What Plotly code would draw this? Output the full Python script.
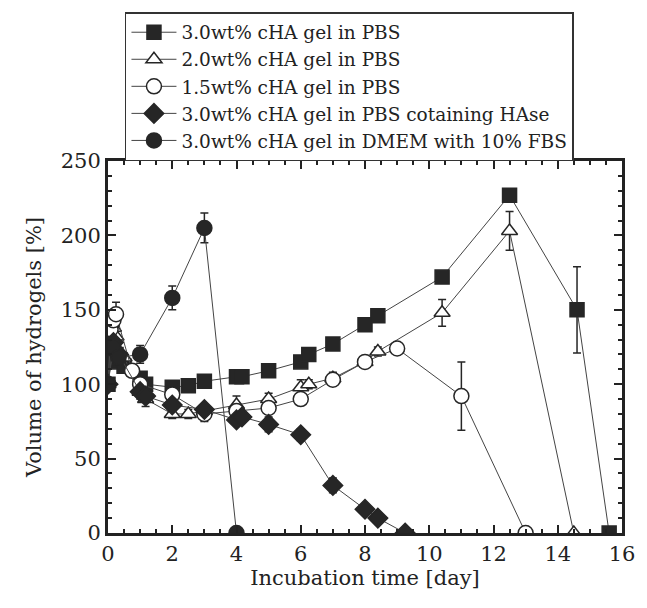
import plotly.graph_objects as go

# 3.0wt% cHA gel in PBS (filled squares)
x_a = [0, 0.08, 0.17, 0.25, 0.5, 1, 1.17, 2, 2.5, 3, 4, 4.17, 5, 6, 6.25, 7, 8, 8.4, 10.4, 12.5, 14.6, 15.6]
y_a = [100, 115, 118, 120, 112, 104, 100, 98, 99, 102, 105, 105, 109, 115, 120, 127, 140, 146, 172, 227, 150, 0]
e_a = [0, 3, 3, 3, 3, 3, 3, 2, 2, 2, 2, 2, 2, 2, 2, 2, 2, 2, 2, 2, 29, 0]

# 2.0wt% cHA gel in PBS (open triangles)
x_b = [0, 0.08, 0.17, 0.25, 0.5, 1, 1.17, 2, 2.5, 3, 4, 5, 6, 6.25, 7, 8, 8.4, 10.4, 12.5, 14.5]
y_b = [100, 130, 138, 132, 118, 95, 90, 80, 80, 82, 86, 90, 98, 100, 104, 115, 122, 148, 203, 0]
e_b = [0, 4, 4, 4, 3, 5, 5, 3, 3, 3, 6, 4, 5, 3, 4, 3, 3, 9, 13, 0]

# 1.5wt% cHA gel in PBS (open circles)
x_c = [0, 0.08, 0.17, 0.25, 0.75, 1, 2, 3, 4, 5, 6, 7, 8, 9, 11, 13]
y_c = [100, 137, 143, 147, 109, 100, 93, 80, 82, 84, 90, 103, 115, 124, 92, 0]
e_c = [0, 5, 6, 8, 3, 3, 3, 5, 4, 4, 3, 4, 3, 3, 23, 0]

# 3.0wt% cHA gel in PBS containing HAse (filled diamonds)
x_d = [0, 0.17, 0.33, 1, 1.17, 2, 3, 4, 4.17, 5, 6, 7, 8, 8.4, 9.25]
y_d = [100, 128, 120, 95, 92, 86, 83, 76, 78, 73, 66, 32, 16, 10, 0]
e_d = [0, 3, 3, 3, 3, 3, 3, 3, 3, 5, 4, 5, 2, 2, 0]

# 3.0wt% cHA gel in DMEM with 10% FBS (filled circles)
x_e = [0, 0.17, 0.33, 1, 2, 3, 4]
y_e = [100, 125, 118, 120, 158, 205, 0]
e_e = [0, 3, 3, 6, 8, 10, 0]

names = [
    "3.0wt% cHA gel in PBS",
    "2.0wt% cHA gel in PBS",
    "1.5wt% cHA gel in PBS",
    "3.0wt% cHA gel in PBS cotaining HAse",
    "3.0wt% cHA gel in DMEM with 10% FBS",
]

INK = "#262626"
series = [
    (x_a, y_a, e_a, "square", INK, 14),
    (x_b, y_b, e_b, "triangle-up", "white", 14),
    (x_c, y_c, e_c, "circle", "white", 15),
    (x_d, y_d, e_d, "diamond", INK, 15),
    (x_e, y_e, e_e, "circle", INK, 15),
]

fig = go.Figure()
for (xs, ys, es, sym, fill, size), nm in zip(series, names):
    fig.add_trace(go.Scatter(
        x=xs, y=ys, name=nm, mode="lines+markers",
        line=dict(color="#444444", width=1),
        marker=dict(symbol=sym, size=size, color=fill, line=dict(color=INK, width=1.5)),
        error_y=dict(type="data", array=es, visible=True, color=INK, thickness=1.5, width=4),
    ))

FF = "DejaVu Serif"
fig.update_layout(
    width=647, height=608,
    margin=dict(l=108, r=20, t=158, b=75),
    paper_bgcolor="white", plot_bgcolor="white",
    font=dict(family=FF, size=20, color="#222222"),
    showlegend=True,
    legend=dict(
        x=0.033, y=1.40, xanchor="left", yanchor="top",
        bordercolor="#333333", borderwidth=1.5, bgcolor="white",
        font=dict(family=FF, size=18.5, color="#222222"),
        tracegroupgap=0, itemwidth=45,
    ),
    xaxis=dict(
        range=[0, 16], dtick=2, tick0=0,
        ticks="inside", ticklen=8, tickwidth=2, tickcolor="#222222",
        showline=True, linewidth=3, linecolor="#222222", mirror="allticks",
        showgrid=False, zeroline=False,
        minor=dict(ticks="inside", dtick=0.5, ticklen=4, tickwidth=2, tickcolor="#222222", showgrid=False),
        title=dict(text="Incubation time [day]", font=dict(family=FF, size=21), standoff=6),
        tickfont=dict(family=FF, size=21),
    ),
    yaxis=dict(
        range=[0, 250], dtick=50, tick0=0,
        ticks="inside", ticklen=8, tickwidth=2, tickcolor="#222222",
        showline=True, linewidth=3, linecolor="#222222", mirror="allticks",
        showgrid=False, zeroline=False,
        minor=dict(ticks="inside", dtick=10, ticklen=4, tickwidth=2, tickcolor="#222222", showgrid=False),
        title=dict(text="Volume of hydrogels [%]", font=dict(family=FF, size=21), standoff=14),
        tickfont=dict(family=FF, size=21),
    ),
)

fig.write_html("out.html")
